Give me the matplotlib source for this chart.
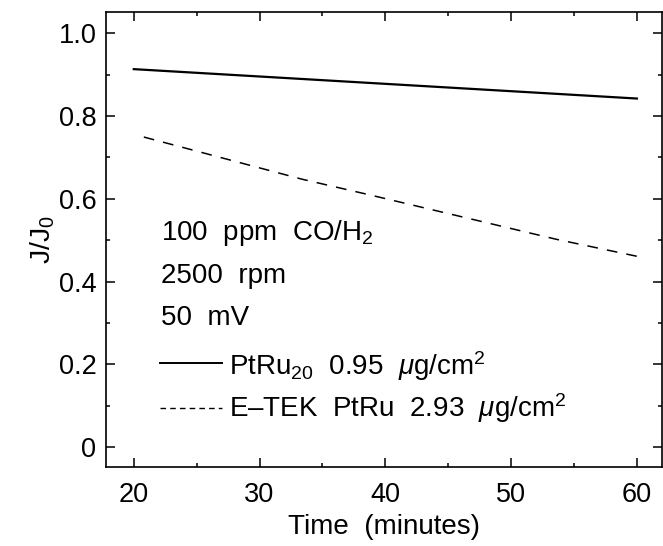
import matplotlib
matplotlib.use("Agg")
from matplotlib import pyplot as plt
from matplotlib.ticker import MultipleLocator

plt.rcParams['font.family'] = ['Liberation Sans', 'DejaVu Sans']
plt.rcParams['mathtext.fontset'] = 'custom'
plt.rcParams['mathtext.rm'] = 'Liberation Sans'
plt.rcParams['mathtext.it'] = 'Liberation Sans:italic'
plt.rcParams['mathtext.default'] = 'regular'

# PtRu20 0.95 ug/cm2 (solid)
ptru_t = [20, 60]
ptru_j = [0.913, 0.842]

# E-TEK PtRu 2.93 ug/cm2 (dashed)
etek_t = [20.8, 33.4, 38.8, 53.6, 60]
etek_j = [0.749, 0.647, 0.609, 0.502, 0.461]

x_ticks = [20, 30, 40, 50, 60]
y_ticks = [0, 0.2, 0.4, 0.6, 0.8, 1.0]
y_tick_labels = ["0", "0.2", "0.4", "0.6", "0.8", "1.0"]

conditions = ["100  ppm  CO/H$_2$", "2500  rpm", "50  mV"]

fig = plt.figure(figsize=(6.63, 5.46), dpi=100)
ax = fig.add_axes([0.16, 0.1447, 0.8385, 0.8333])

ax.plot(ptru_t, ptru_j, color="black", lw=1.6)
ax.plot(etek_t, etek_j, color="black", lw=1.1, dashes=(7, 6))

ax.set_xlim(17.8, 62)
ax.set_ylim(-0.048, 1.051)
ax.set_xticks(x_ticks)
ax.set_yticks(y_ticks)
ax.set_yticklabels(y_tick_labels)
ax.xaxis.set_minor_locator(MultipleLocator(5))
ax.yaxis.set_minor_locator(MultipleLocator(0.1))
ax.tick_params(which="both", direction="in", top=True, right=True, width=1.1)
ax.tick_params(which="major", length=6.5, labelsize=19.5)
ax.tick_params(axis="y", which="major", pad=7)
ax.tick_params(axis="x", which="major", pad=11)
ax.tick_params(which="minor", length=3)
for s in ax.spines.values():
    s.set_linewidth(1.2)

ax.set_xlabel("Time  (minutes)", fontsize=20, labelpad=4)
ax.set_ylabel("J/J$_0$", fontsize=20.5, labelpad=1)

# condition text
for i, txt in enumerate(conditions):
    ax.text(22.2, 0.5 - i * 0.103, txt, fontsize=20, va="baseline", ha="left")

# hand-drawn legend
ax.plot([22.1, 27.0], [0.203, 0.203], color="black", lw=1.4)
ax.text(27.55, 0.174, "PtRu$_{20}$  0.95  $\\mathit{\\mu}$g/cm$^2$", fontsize=20, va="baseline")
ax.plot([22.1, 27.0], [0.094, 0.094], color="black", lw=1.0, dashes=(4, 3))
ax.text(27.55, 0.072, "E\u2013TEK  PtRu  2.93  $\\mathit{\\mu}$g/cm$^2$", fontsize=20, va="baseline")

fig.savefig("out.png", dpi=100)
